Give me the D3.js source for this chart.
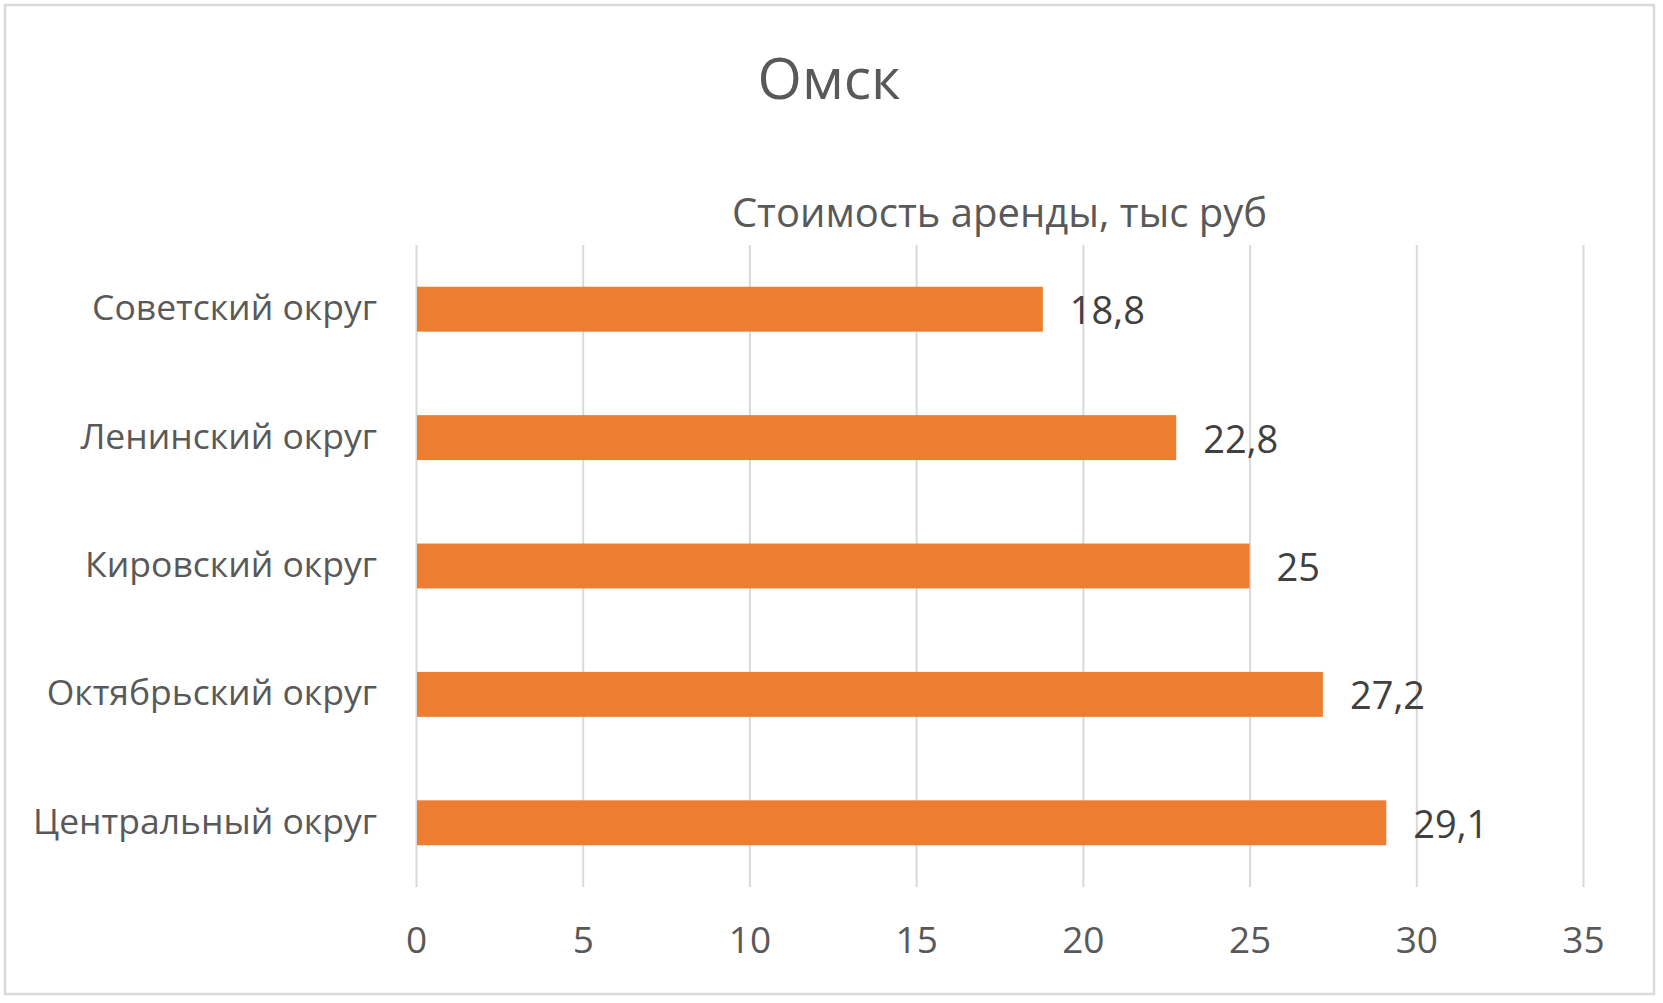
<!DOCTYPE html>
<html>
<head>
<meta charset="utf-8">
<script src="https://cdn.jsdelivr.net/npm/d3@7"></script>
<style>
  html, body { margin: 0; padding: 0; background: #ffffff; }
  svg { display: block; }
  text { font-family: "Open Sans", "Noto Sans", sans-serif; font-weight: 500; }
</style>
</head>
<body>
<svg id="chart" width="1663" height="1003"></svg>
<script>
const chartTitle = "Омск";
const axisTitle = "Стоимость аренды, тыс руб";
const categories = ["Советский округ", "Ленинский округ", "Кировский округ", "Октябрьский округ", "Центральный округ"];
const values = [18.8, 22.8, 25, 27.2, 29.1];
const xTicks = [0, 5, 10, 15, 20, 25, 30, 35];

const W = 1663, H = 1003;
const plot = { left: 416, right: 1583, top: 245, bottom: 887 };

const svg = d3.select("#chart");

svg.append("rect").attr("x", 0).attr("y", 0).attr("width", W).attr("height", H).attr("fill", "#ffffff");
svg.append("rect")
  .attr("x", 5).attr("y", 5).attr("width", 1649).attr("height", 989)
  .attr("fill", "#ffffff").attr("stroke", "#d9d9d9").attr("stroke-width", 2.5);

const x = d3.scaleLinear().domain([0, 35]).range([plot.left, plot.right]);
const y = d3.scaleBand().domain(categories).range([plot.top, plot.bottom])
  .paddingInner(0.65).paddingOuter(0.325);

// X axis with gridlines
const xAxis = d3.axisBottom(x).tickValues(xTicks).tickFormat(d3.format("d"))
  .tickSizeInner(-(plot.bottom - plot.top)).tickSizeOuter(0);
const gx = svg.append("g").attr("transform", `translate(0,${plot.bottom})`).call(xAxis);
gx.select(".domain").remove();
gx.selectAll(".tick line").attr("stroke", "#d9d9d9").attr("stroke-width", 2);
gx.selectAll(".tick text")
  .attr("y", 65.5).attr("dy", 0)
  .attr("fill", "#595959").attr("font-size", 37);

// Bars
svg.append("g").selectAll("rect").data(values).join("rect")
  .attr("x", x(0) + 1)
  .attr("y", (d, i) => y(categories[i]))
  .attr("width", d => x(d) - x(0) - 1)
  .attr("height", y.bandwidth())
  .attr("fill", "#ed7d31");

// Y axis (category labels)
const yAxis = d3.axisLeft(y).tickSize(0).tickPadding(39);
const gy = svg.append("g").attr("transform", `translate(${plot.left},0)`).call(yAxis);
gy.select(".domain").remove();
gy.selectAll(".tick text")
  .attr("dy", 11).attr("fill", "#595959").attr("font-size", 35.5);

// Value labels
svg.append("g").selectAll("text").data(values).join("text")
  .attr("x", d => x(d) + 27)
  .attr("y", (d, i) => y(categories[i]) + y.bandwidth() / 2 + 15)
  .attr("fill", "#404040").attr("font-size", 38)
  .text(d => String(d).replace(".", ","));

// Titles
svg.append("text").attr("x", 829).attr("y", 99).attr("text-anchor", "middle")
  .attr("fill", "#595959").attr("font-size", 57).text(chartTitle);
svg.append("text").attr("x", (plot.left + plot.right) / 2).attr("y", 227).attr("text-anchor", "middle")
  .attr("fill", "#595959").attr("font-size", 40).text(axisTitle);
</script>
</body>
</html>
